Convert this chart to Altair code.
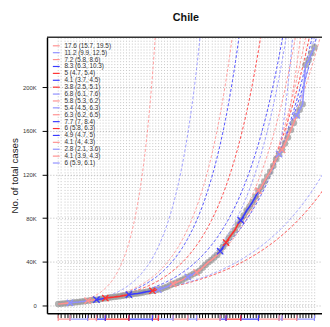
import altair as alt
import numpy as np
import pandas as pd

# cumulative cases, one value per day (day 0 = first plotted day)
cases = [1142, 1306, 1610, 1909, 2139, 2449, 2738, 3031, 3404, 3737, 4161, 4471, 4815, 5116,
         5546, 5972, 6501, 6927, 7213, 7525, 7917, 8273, 8807, 9252, 9730, 10088, 10507, 10832,
         11296, 11812, 12306, 12858, 13331, 13813, 14365, 14885, 16023, 17008, 18435, 19663,
         20643, 22016, 23048, 24581, 25972, 27219, 28866, 30063, 31721, 34381, 37040, 39542,
         41428, 43781, 46059, 49579, 53617, 57581, 61857, 65393, 69102, 73997, 77961, 82289,
         86943, 90638, 94858, 99688, 105159, 108686, 113628, 118292, 122499, 127745, 134150,
         138846, 142759, 148456, 154092, 160846, 167355, 174293, 179436, 184449, 220628,
         225103, 231393, 236748]

# fitting windows (legend text, start day, end day) and projected doubling time of each dashed curve
labels = ["17.6 (15.7, 19.5)", "11.2 (9.9, 12.5)", "7.2 (5.8, 8.6)", "8.3 (6.3, 10.3)",
          "5 (4.7, 5.4)", "4.1 (3.7, 4.5)", "3.8 (2.5, 5.1)", "6.8 (6.1, 7.6)",
          "5.8 (5.3, 6.2)", "5.4 (4.5, 6.3)", "6.3 (6.2, 6.5)", "7.7 (7, 8.4)",
          "6 (5.8, 6.3)", "4.9 (4.7, 5)", "4.1 (4, 4.3)", "2.8 (2.1, 3.6)",
          "4.1 (3.9, 4.3)", "6 (5.9, 6.1)"]
win_start = [0, 4, 10, 13, 16, 24, 32, 34, 39, 44, 47, 55, 57, 62, 68, 75, 76, 81]
win_end = [4, 10, 13, 16, 24, 32, 34, 39, 44, 47, 55, 57, 62, 68, 75, 76, 81, 87]
proj_doubling = [4.25, 6.45, 8.34, 8.66, 10.06, 11.2, 19.4, 18.2, 11.4, 10.3, 12.2, 13.5,
                 13.5, 15.5, 17.1, 5.6, 8.0, 11.9]
strong = [False, False, False, True, True, True, True, False, False, False, False, True,
          True, True, False, False, False, False]

y_ticks = [0, 40000, 80000, 120000, 160000, 200000]

# ---- colours (style, derived from window order) ----
colors = []
for i, s in enumerate(strong):
    if i % 2 == 0:
        colors.append("#ff3030" if s else "#ff9090")
    else:
        colors.append("#3a3aff" if s else "#9090ff")

FONT = "Liberation Sans"
days = list(range(len(cases)))
df_pts = pd.DataFrame({"d": days, "v": cases})

# in-window fitted segments
rows = []
for lab, s, e in zip(labels, win_start, win_end):
    for d in range(s, e + 1):
        rows.append({"d": d, "v": cases[d], "label": lab})
df_fit = pd.DataFrame(rows)

# dashed projections
rows = []
for lab, s, td in zip(labels, win_start, proj_doubling):
    v0 = cases[s]
    for t in np.arange(s, 90.01, 0.2):
        v = v0 * 2 ** ((t - s) / td)
        rows.append({"d": float(t), "v": float(v), "label": lab})
        if v > 270000:
            break
df_proj = pd.DataFrame(rows)

df_mark = pd.DataFrame({"d": win_start[1:], "v": [cases[s] for s in win_start[1:]],
                        "label": labels[1:]})
df_win = pd.DataFrame({"d": win_start, "d2": win_end, "label": labels})
df_win_ends = pd.DataFrame({"d": win_start + win_end, "label": labels + labels})
df_leg = pd.DataFrame({"label": labels, "row": list(range(len(labels)))})

xs = alt.Scale(domain=[-3.8, 89.58], nice=False, zero=False)
ys = alt.Scale(domain=[-7400, 246000], nice=False, zero=False)
xa = alt.Axis(values=days, labels=False, tickSize=4.5, tickColor="black", domainColor="black",
              domainWidth=1.5, grid=True, gridDash=[1, 2], gridColor="#c4c4c4", title=None)
ya = alt.Axis(values=y_ticks,
              labelExpr="datum.value == 0 ? '0' : (datum.value/1000) + 'K'",
              tickSize=5, tickColor="black", labelFontSize=6, labelPadding=6,
              labelFont=FONT, labelColor="#333", grid=True, gridDash=[1, 2],
              gridColor="#b8b8b8", domainColor="black", domainWidth=1.5,
              title="No. of total cases", titleFont=FONT, titleFontSize=10,
              titleFontWeight="normal", titleColor="#222", titleX=-33, titleY=141.5,
              titleAngle=270, titleAlign="center", titleBaseline="middle")
X = alt.X("d:Q", scale=xs, axis=xa)
Y = alt.Y("v:Q", scale=ys, axis=ya)
col = alt.Color("label:N", scale=alt.Scale(domain=labels, range=colors), legend=None)

proj = alt.Chart(df_proj).mark_line(strokeDash=[3, 2], strokeWidth=0.9, clip=True).encode(
    x=X, y=Y, color=col, detail="label:N")
dots = alt.Chart(df_pts).mark_circle(size=45, color="#9a9a9a", opacity=0.75, clip=True).encode(
    x=X, y=Y)
fits = alt.Chart(df_fit).mark_line(strokeWidth=1.6, clip=True).encode(
    x=X, y=Y, color=col, detail="label:N")
marks = alt.Chart(df_mark).mark_point(shape="M-1,-1L1,1M-1,1L1,-1", filled=False, size=42,
                                      strokeWidth=1.4, opacity=1).encode(x=X, y=Y, color=col)
br_h = alt.Chart(df_win).mark_rule(strokeWidth=1.2).encode(
    x=X, x2="d2:Q", y=alt.value(289), color=col)
br_v = alt.Chart(df_win_ends).mark_rule(strokeWidth=1.2).encode(
    x=X, y=alt.value(285), y2=alt.value(291), color=col)
frame = alt.Chart(pd.DataFrame({"k": [0]})).mark_rule(color="#333", strokeWidth=1.6).encode(
    x=alt.value(0), x2=alt.value(282), y=alt.value(0))

main = alt.layer(proj, dots, fits, marks, br_h, br_v, frame)

ly = alt.Y("row:Q", scale=alt.Scale(domain=[0, 17], range=[8.7, 128.9]), axis=None)
leg_line = alt.Chart(df_leg).mark_rule(strokeWidth=1.2).encode(
    x=alt.value(6), x2=alt.value(13), y=ly, color=col)
leg_text = alt.Chart(df_leg).mark_text(align="left", baseline="middle", fontSize=6.5,
                                       font=FONT, color="#333").encode(
    x=alt.value(18), y=ly, text="label:N")
title = alt.Chart(pd.DataFrame({"k": [0]})).mark_text(
    text="Chile", font=FONT, fontSize=11, fontWeight="bold", color="#111",
    align="center", baseline="alphabetic").encode(x=alt.value(142.5), y=alt.value(-17))

chart = alt.layer(main, leg_line, leg_text, title).resolve_scale(y="independent").properties(
    width=282, height=283,
    autosize=alt.AutoSizeParams(type="none"),
    padding={"left": 40, "top": 26, "right": 0, "bottom": 10},
).configure_view(stroke=None)

chart.save("out.html", embed_options={"renderer": "svg", "actions": False})
